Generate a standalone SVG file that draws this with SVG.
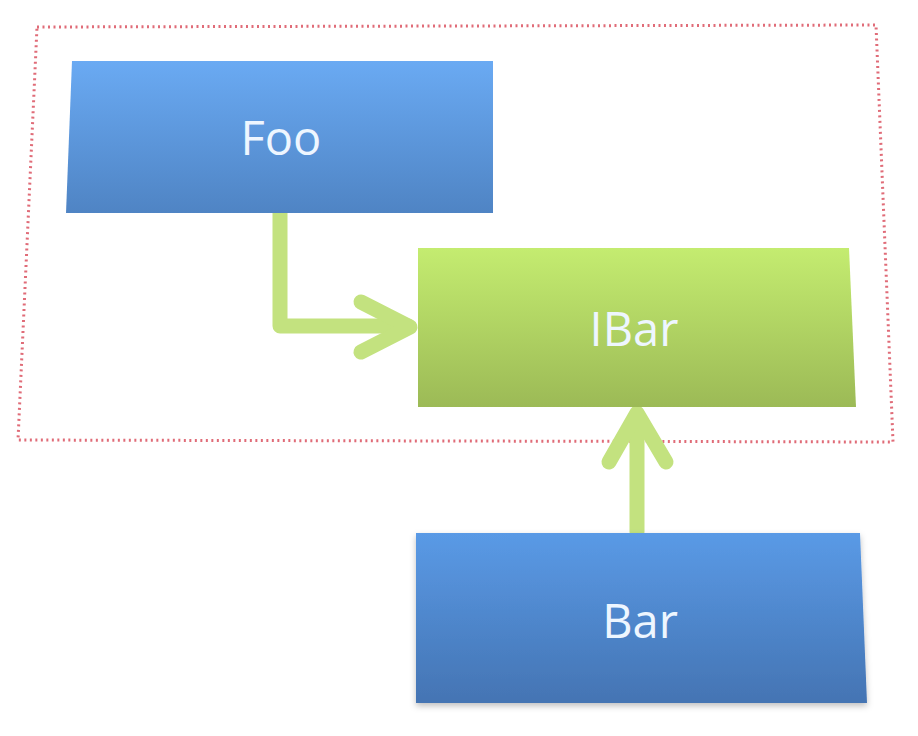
<svg xmlns="http://www.w3.org/2000/svg" width="918" height="736" viewBox="0 0 918 736">
<defs>
<linearGradient id="gBlue" x1="0" y1="0" x2="0" y2="1">
<stop offset="0" stop-color="#6aaaf3"/>
<stop offset="1" stop-color="#4f84c4"/>
</linearGradient>
<linearGradient id="gBlue2" x1="0" y1="0" x2="0" y2="1">
<stop offset="0" stop-color="#5a9ae6"/>
<stop offset="1" stop-color="#4474b3"/>
</linearGradient>
<linearGradient id="gGreen" x1="0" y1="0" x2="0" y2="1">
<stop offset="0" stop-color="#c4ec70"/>
<stop offset="1" stop-color="#9cba56"/>
</linearGradient>
<filter id="sh" x="-5%" y="-5%" width="110%" height="115%">
<feDropShadow dx="0" dy="3" stdDeviation="3" flood-color="#000" flood-opacity="0.25"/>
</filter>
</defs>
<style>
.lbl{font-family:"Open Sans","Noto Sans","DejaVu Sans",sans-serif;font-size:47px;fill:#eef6ff;text-anchor:middle}
.conn{fill:none;stroke:#c3e27f;stroke-width:15;stroke-linecap:round;stroke-linejoin:round}
.frame{fill:none;stroke:#e06c78;stroke-width:3;stroke-dasharray:2 3.5}
</style>
<rect width="918" height="736" fill="#ffffff"/>
<g id="frame">
<polygon class="frame" points="37,27 876,25 893,442 18,440"/>
</g>
<g id="connectors">
<path class="conn" d="M280,213 L280,326 L408,326"/>
<path class="conn" d="M361,302 L410,327 L361,352"/>
<path class="conn" d="M637,532 L637,414"/>
<path class="conn" d="M609,462 L637,413 L666,462"/>
</g>
<g id="foo">
<polygon points="72,61 493,61 493,213 66,213" fill="url(#gBlue)"/>
<text class="lbl" x="281" y="155">Foo</text>
</g>
<g id="ibar">
<polygon points="418,248 849,248 856,407 418,407" fill="url(#gGreen)"/>
<text class="lbl" x="634" y="346">IBar</text>
</g>
<g id="bar">
<polygon points="416,533 860,533 867,703 416,703" fill="url(#gBlue2)" filter="url(#sh)"/>
<text class="lbl" x="640" y="638">Bar</text>
</g>
</svg>
